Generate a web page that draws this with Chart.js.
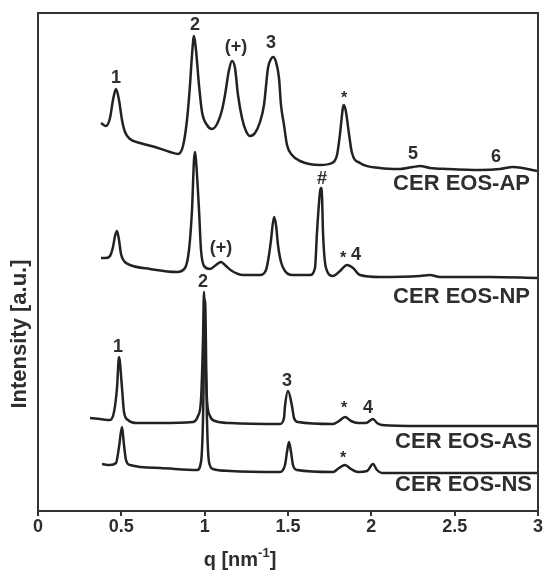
<!DOCTYPE html>
<html lang="en">
<head>
    <meta charset="UTF-8">
    <title>CER EOS SAXS profiles</title>
    <script src="https://cdn.jsdelivr.net/npm/chart.js"></script>
    <style>
        body { margin: 0; background: #ffffff; }
        canvas { display: block; }
    </style>
</head>
<body>
    <canvas id="saxsChart" width="544" height="573"></canvas>

    <script>
        // q values [nm^-1] and intensities (offset, a.u.)
        const qAP = [0.378, 0.408, 0.432, 0.450, 0.468, 0.486, 0.504, 0.522, 0.552, 0.612, 0.702, 0.792, 0.840, 0.870, 0.894, 0.912, 0.924, 0.936, 0.948, 0.966, 0.984, 1.014, 1.044, 1.074, 1.104, 1.122, 1.146, 1.164, 1.182, 1.200, 1.224, 1.248, 1.272, 1.302, 1.332, 1.356, 1.380, 1.398, 1.410, 1.428, 1.446, 1.458, 1.476, 1.494, 1.524, 1.572, 1.692, 1.764, 1.794, 1.812, 1.830, 1.836, 1.848, 1.866, 1.884, 1.932, 2.052, 2.172, 2.250, 2.292, 2.352, 2.454, 2.652, 2.772, 2.850, 2.904, 2.994];
        const iAP = [388, 385, 393, 411, 422, 411, 391, 379, 372, 368, 364, 359, 357, 365, 391, 426, 456, 475, 461, 426, 399, 386, 382, 387, 401, 416, 441, 450, 443, 416, 393, 380, 375, 378, 389, 406, 443, 452, 454, 449, 433, 406, 386, 366, 356, 350, 346, 348, 356, 377, 404, 406, 399, 377, 358, 348, 343, 342, 344, 345, 343, 342, 341, 342, 344, 343, 340];

        const qNP = [0.378, 0.408, 0.432, 0.450, 0.462, 0.474, 0.486, 0.498, 0.516, 0.552, 0.672, 0.834, 0.882, 0.906, 0.924, 0.936, 0.942, 0.948, 0.966, 0.978, 0.996, 1.032, 1.068, 1.098, 1.128, 1.164, 1.230, 1.332, 1.368, 1.386, 1.398, 1.416, 1.428, 1.440, 1.458, 1.482, 1.524, 1.632, 1.662, 1.674, 1.692, 1.698, 1.704, 1.710, 1.728, 1.770, 1.812, 1.854, 1.890, 1.932, 2.052, 2.292, 2.352, 2.412, 2.712, 2.994];
        const iNP = [253, 253, 255, 264, 275, 280, 271, 257, 250, 246, 242, 239, 243, 261, 301, 351, 359, 351, 301, 261, 245, 242, 246, 249, 245, 240, 236, 236, 241, 256, 271, 294, 286, 266, 249, 240, 236, 236, 243, 279, 319, 323, 316, 279, 243, 235, 240, 246, 243, 236, 234, 235, 236, 234, 234, 233];

        const qAS = [0.312, 0.372, 0.432, 0.456, 0.474, 0.486, 0.504, 0.516, 0.540, 0.594, 0.732, 0.930, 0.960, 0.978, 0.990, 0.996, 1.002, 1.014, 1.032, 1.062, 1.152, 1.452, 1.476, 1.482, 1.500, 1.524, 1.536, 1.560, 1.770, 1.806, 1.842, 1.878, 1.920, 1.968, 2.010, 2.034, 2.064, 2.292, 2.994];
        const iAS = [93, 92, 91, 99, 123, 154, 123, 99, 91, 88, 88, 89, 95, 111, 171, 219, 171, 111, 95, 90, 88, 87, 93, 105, 120, 105, 93, 89, 87, 90, 94, 90, 88, 88, 92, 88, 86, 85, 85];

        const qNS = [0.384, 0.432, 0.468, 0.486, 0.504, 0.516, 0.528, 0.552, 0.732, 0.954, 0.978, 0.990, 1.002, 1.014, 1.026, 1.050, 1.152, 1.452, 1.482, 1.494, 1.506, 1.518, 1.530, 1.554, 1.770, 1.806, 1.842, 1.878, 1.920, 1.974, 2.010, 2.034, 2.064, 2.994];
        const iNS = [47, 46, 48, 64, 84, 66, 51, 46, 43, 41, 49, 91, 211, 91, 49, 42, 40, 39, 46, 59, 69, 59, 46, 41, 39, 43, 46, 42, 39, 40, 47, 41, 38, 38];

        const xTicks = [0, 0.5, 1, 1.5, 2, 2.5, 3];

        // peak annotations: text, q, intensity
        const peakLabels = [
            ['1', 0.468, 433], ['2', 0.942, 486], ['(+)', 1.188, 464], ['3', 1.398, 468], ['*', 1.836, 412], ['5', 2.25, 357], ['6', 2.748, 354],
            ['(+)', 1.098, 263], ['#', 1.704, 332], ['*', 1.83, 252], ['4', 1.908, 256],
            ['1', 0.48, 164], ['2', 0.99, 229], ['3', 1.494, 130], ['*', 1.836, 102], ['4', 1.98, 103],
            ['*', 1.83, 52]
        ];
        const curveNames = [
            ['CER EOS-AP', 2.952, 327],
            ['CER EOS-NP', 2.952, 214],
            ['CER EOS-AS', 2.964, 69],
            ['CER EOS-NS', 2.964, 26]
        ];

        const toPoints = (qs, is) => qs.map((q, k) => ({ x: q, y: is[k] }));
        const ink = '#2e2e2e';
        const face = '"Liberation Sans", Arial, sans-serif';

        function curve(label, qs, is) {
            return {
                label: label,
                data: toPoints(qs, is),
                borderColor: '#222222',
                borderWidth: 2.5,
                pointRadius: 0,
                cubicInterpolationMode: 'monotone',
                fill: false
            };
        }

        const annotate = {
            id: 'annotate',
            afterDraw(chart) {
                const { ctx, chartArea: a, scales: { x, y } } = chart;
                ctx.save();
                // frame
                ctx.strokeStyle = '#333333';
                ctx.lineWidth = 2;
                ctx.strokeRect(a.left, a.top, a.right - a.left, a.bottom - a.top);

                ctx.fillStyle = ink;
                ctx.textBaseline = 'middle';
                ctx.textAlign = 'center';
                peakLabels.forEach(([t, q, v]) => {
                    ctx.font = 'bold ' + (t === '*' ? 16 : 18) + 'px ' + face;
                    ctx.fillText(t, x.getPixelForValue(q), y.getPixelForValue(v));
                });

                ctx.textAlign = 'right';
                ctx.font = 'bold 22px ' + face;
                curveNames.forEach(([t, q, v]) => {
                    ctx.fillText(t, x.getPixelForValue(q), y.getPixelForValue(v));
                });

                // y title
                ctx.save();
                ctx.translate(20, 334);
                ctx.rotate(-Math.PI / 2);
                ctx.textAlign = 'center';
                ctx.font = 'bold 22px ' + face;
                ctx.fillText('Intensity [a.u.]', 0, 0);
                ctx.restore();

                // x title with superscript
                ctx.textAlign = 'left';
                ctx.textBaseline = 'alphabetic';
                const big = 'bold 20px ' + face;
                const small = 'bold 13px ' + face;
                ctx.font = big;
                const w1 = ctx.measureText('q [nm').width;
                const w3 = ctx.measureText(']').width;
                ctx.font = small;
                const w2 = ctx.measureText('-1').width;
                const px = 240 - (w1 + w2 + w3) / 2;
                const base = 566;
                ctx.font = big;
                ctx.fillText('q [nm', px, base);
                ctx.font = small;
                ctx.fillText('-1', px + w1, base - 9);
                ctx.font = big;
                ctx.fillText(']', px + w1 + w2, base);
                ctx.restore();
            }
        };

        const ctx = document.getElementById('saxsChart').getContext('2d');
        new Chart(ctx, {
            type: 'line',
            data: {
                datasets: [
                    curve('CER EOS-AP', qAP, iAP),
                    curve('CER EOS-NP', qNP, iNP),
                    curve('CER EOS-AS', qAS, iAS),
                    curve('CER EOS-NS', qNS, iNS)
                ]
            },
            options: {
                responsive: false,
                animation: false,
                layout: { padding: { left: 38, top: 13, right: 6, bottom: 0 } },
                plugins: { legend: { display: false }, tooltip: { enabled: false } },
                scales: {
                    x: {
                        type: 'linear',
                        min: 0,
                        max: 3,
                        afterBuildTicks: (s) => { s.ticks = xTicks.map(v => ({ value: v })); },
                        afterFit: (s) => { s.height = 62; },
                        grid: { drawOnChartArea: false, drawTicks: true, tickLength: 5, color: '#333333', lineWidth: 2 },
                        border: { color: '#333333', width: 2 },
                        ticks: {
                            padding: 0,
                            color: ink,
                            font: { family: face, size: 18, weight: 'bold' },
                            callback: (v) => String(v)
                        }
                    },
                    y: {
                        type: 'linear',
                        min: 0,
                        max: 498,
                        afterFit: (s) => { s.width = 0; },
                        grid: { display: false },
                        border: { display: false },
                        ticks: { display: false }
                    }
                }
            },
            plugins: [annotate]
        });
    </script>
</body>
</html>
